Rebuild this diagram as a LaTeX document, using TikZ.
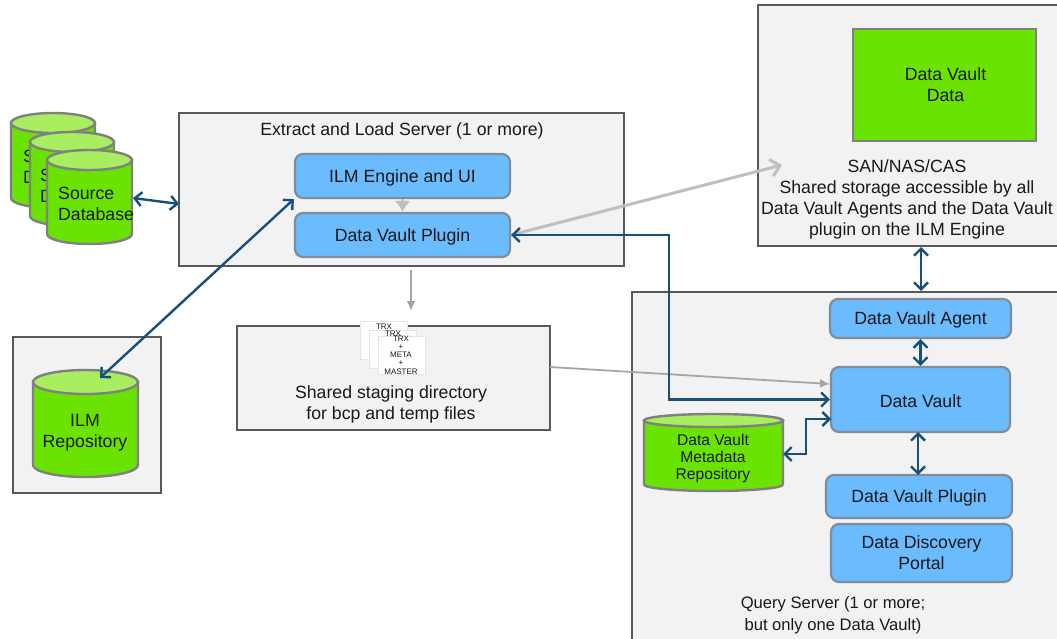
\documentclass[tikz,border=0pt]{standalone}
\usepackage{fontspec}
\setmainfont{Liberation Sans}
\usetikzlibrary{arrows.meta}
\definecolor{boxfill}{HTML}{F2F2F2}
\definecolor{boxline}{HTML}{595959}
\definecolor{vgreen}{HTML}{6AE300}
\definecolor{vtop}{HTML}{A8EE60}
\definecolor{cylline}{HTML}{808080}
\definecolor{bluefill}{HTML}{6BBBFF}
\definecolor{blueline}{HTML}{7F8C99}
\definecolor{navy}{HTML}{174F80}
\definecolor{arrowgray}{HTML}{A6A6A6}
\definecolor{lightgray}{HTML}{BFBFBF}
\tikzset{
  every node/.style={font=\fontsize{17.7}{21}\selectfont,align=center,inner sep=0pt,text=black!90},
  panel/.style={draw=boxline,line width=2pt,fill=boxfill,rectangle},
  bluebox/.style={draw=blueline,line width=2.2pt,fill=bluefill,rectangle,rounded corners=8pt},
  cylbody/.style={draw=cylline,line width=2.4pt,fill=vgreen},
  cyltop/.style={draw=cylline,line width=2.4pt,fill=vtop},
  sheet/.style={rectangle,fill=white,draw=black!10,line width=.8pt},
  tiny/.style={font=\fontsize{8}{10}\selectfont},
  link/.style={draw=navy,line width=2.4pt,{Straight Barb[length=7pt,width=14pt]}-{Straight Barb[length=7pt,width=14pt]}},
  graylink/.style={draw=arrowgray,line width=1.8pt,-{Latex[length=10pt,width=9pt]}},
  graylong/.style={draw=lightgray,line width=3pt,-{Straight Barb[length=9pt,width=17pt]}},
  grayshort/.style={draw=lightgray,line width=3pt,-{Latex[length=11pt,width=16pt]}}
}
\newcommand{\lowertext}[1]{\raisebox{-1.7pt}[\height][\depth]{#1}}
% name, centre x, top y, bottom y, x radius, y radius
\newcommand{\dbcylinder}[6]{%
  \pgfmathsetmacro{\cw}{2*#5}\pgfmathsetmacro{\ch}{#4-#3}\pgfmathsetmacro{\cy}{(#3+#4)/2}%
  \node[rectangle,minimum width=\cw pt,minimum height=\ch pt] (#1) at (#2,\cy) {};
  \pgfmathsetmacro{\cl}{#2-#5}\pgfmathsetmacro{\ctop}{#3+#6}\pgfmathsetmacro{\cbot}{#4-#6}%
  \path[cylbody] (\cl,\ctop) -- (\cl,\cbot) arc[start angle=180,end angle=0,x radius=#5,y radius=#6] -- +(0,\ctop-\cbot) -- cycle;
  \path[cyltop] (#2,\ctop) ellipse[x radius=#5,y radius=#6];
}
\begin{document}
\begin{tikzpicture}[x=1pt,y=-1pt]
\useasboundingbox (0,0) rectangle (1057,638);
\fill[white] (0,0) rectangle (1057,638);
% panels
\node[panel,minimum width=445pt,minimum height=153pt] (extract) at (401.5,189.5) {};
\node at (402,131) (extractlabel) {Extract and Load Server (1 or more)};
\node[panel,minimum width=320pt,minimum height=241pt,anchor=north west] (storage) at (757,4) {};
\node[panel,minimum width=450pt,minimum height=370pt,anchor=north west] (query) at (631,291) {};
\node[panel,minimum width=148pt,minimum height=156pt] (repobox) at (87,415) {};
\node[panel,minimum width=313pt,minimum height=104pt] (staging) at (393.5,378) {};
% storage
\node[rectangle,draw=cylline,line width=2pt,fill=vgreen,minimum width=183pt,minimum height=112pt] (vaultdata) at (944.5,85) {\hspace{2pt}Data Vault\\\hspace{2pt}Data};
\node (storagelabel) at (907,199) {SAN/NAS/CAS\\Shared storage accessible by all\\Data Vault Agents and the Data Vault\\plugin on the ILM Engine};
% source db
\dbcylinder{src1}{53}{113}{208}{42}{10}
\node[anchor=west,align=left] at (23,167) (src1t) {Source\\Database};
\dbcylinder{src2}{72}{132}{226}{42}{10}
\node[anchor=west,align=left] at (40,186) (src2t) {Source\\Database};
\dbcylinder{src3}{89.5}{150}{244}{42.5}{10}
\node[anchor=west,align=left] at (58,204) (src3t) {Source\\Database};
% ILM repository
\dbcylinder{repo}{85.5}{370}{477}{52.5}{12}
\node at (85,433) (repot) {ILM\\Repository};
% boxes
\node[bluebox,minimum width=215pt,minimum height=44pt] (engine) at (402.5,176) {\lowertext{ILM Engine and UI}};
\node[bluebox,minimum width=215pt,minimum height=44pt] (plugin) at (402.5,235) {\lowertext{Data Vault Plugin}};
\node[bluebox,minimum width=181pt,minimum height=39pt] (agent) at (920.5,318.5) {\lowertext{Data Vault Agent}};
\node[bluebox,minimum width=179pt,minimum height=65pt] (vault) at (920.5,399.5) {\lowertext{Data Vault}};
\node[bluebox,minimum width=186pt,minimum height=43pt] (qplugin) at (919,496.5) {\lowertext{Data Vault Plugin}};
\node[bluebox,minimum width=181pt,minimum height=58pt] (portal) at (921.5,553) {Data Discovery\\Portal};
\node[font=\fontsize{16.6}{22}\selectfont] (querylabel) at (833,615) {Query Server (1 or more;\\ but only one Data Vault)};
% metadata
\dbcylinder{meta}{713.5}{414}{491}{69.5}{6.5}
\node[font=\fontsize{15.6}{17}\selectfont] at (713,458.5) (metat) {Data Vault\\Metadata\\Repository};
% staging
\node[sheet,minimum width=47pt,minimum height=38pt,anchor=north west] (sheet1) at (360,321) {};
\node[tiny] at (384,327) {TRX};
\node[sheet,minimum width=47pt,minimum height=38pt,anchor=north west] (sheet2) at (369,330) {};
\node[tiny] at (393,334) {TRX};
\node[sheet,minimum width=47pt,minimum height=38pt,anchor=north west] (sheet3) at (378,336) {};
\node[tiny,font=\fontsize{8}{8.2}\selectfont] at (401,355) (sheet3t) {TRX\\+\\META\\+\\MASTER};
\node (staginglabel) at (391,404) {Shared staging directory\\for bcp and temp files};
% connectors
\coordinate (a1) at (133,198);
\coordinate (a2) at (179,204);
\draw[link] (a1) -- (a2);
\coordinate (r1) at (100,378);
\draw[link] (r1) -- (engine.south west);
\draw[grayshort] (engine.south) -- (plugin.north);
\coordinate (s1) at (782,165);
\draw[graylong] (plugin.east) -- (s1);
\coordinate (t1) at (411,270);
\coordinate (t2) at (411,311);
\draw[graylink] (t1) -- (t2);
\coordinate (g1) at (550,367);
\coordinate (g2) at (830,384);
\draw[graylink] (g1) -- (g2);
\coordinate (bend) at (669,300);
\draw[link] (plugin.east) -| (bend) |- (vault.west);
\coordinate (m1) at (783,454);
\coordinate (m2) at (831,419);
\draw[link] (m1) -- (806,454) -- (806,419) -- (m2);
\draw[link] (storage.south -| 921,0) -- (query.north -| 921,0);
\draw[link] (agent.south) -- (vault.north);
\draw[link] (918,432) -- (918,475);
\end{tikzpicture}
\end{document}
